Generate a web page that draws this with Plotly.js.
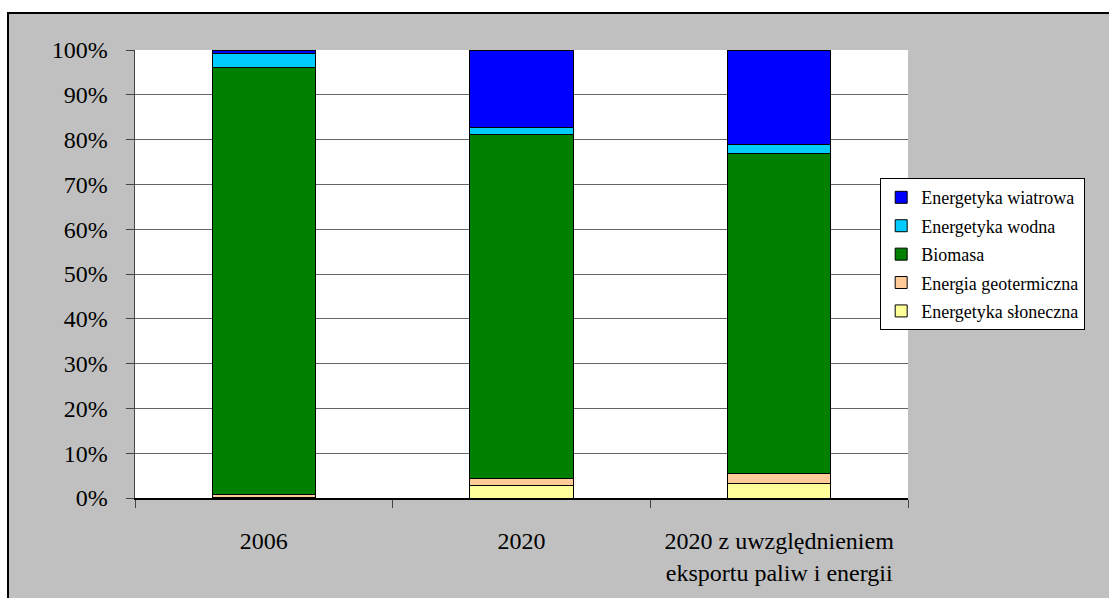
<!DOCTYPE html>
<html>
<head>
<meta charset="utf-8">
<script src="https://cdn.plot.ly/plotly-3.0.1.min.js"></script>
<style>
html,body{margin:0;padding:0;background:#ffffff;overflow:hidden;width:1109px;height:598px;}
#frame{position:absolute;left:7px;top:12px;width:1110px;height:600px;border-left:2px solid #000;border-top:2px solid #000;background:#c0c0c0;}
#chart{position:absolute;left:0;top:0;width:1100px;height:584px;}
</style>
</head>
<body>
<div id="frame"><div id="chart"></div></div>
<script>
var categories = ['2006', '2020', '2020 z uwzględnieniem<br>eksportu paliw i energii'];
var seriesNames = ['Energetyka słoneczna', 'Energia geotermiczna', 'Biomasa', 'Energetyka wodna', 'Energetyka wiatrowa'];
var solar = [0.1, 2.8, 3.3];
var geothermal = [0.6, 1.5, 2.1];
var biomass = [95.5, 76.9, 71.5];
var hydro = [3.0, 1.5, 2.1];
var wind = [0.8, 17.3, 21.0];
var yTicks = [0, 10, 20, 30, 40, 50, 60, 70, 80, 90, 100];
var yTickLabels = ['0%', '10%', '20%', '30%', '40%', '50%', '60%', '70%', '80%', '90%', '100%'];

var seriesValues = [solar, geothermal, biomass, hydro, wind];
var colors = ['#FFFF99', '#FFCC99', '#008000', '#00CCFF', '#0000FF'];

var traces = seriesNames.map(function(name, i){
  return {
    type: 'bar',
    name: name,
    x: categories,
    y: seriesValues[i],
    legendgroup: 'g' + i,
    legendrank: 100 - i,
    marker: {color: colors[i], line: {color: '#000000', width: 1}},
    hoverinfo: 'name+y'
  };
});

var serif = "'Liberation Serif', 'Times New Roman', serif";

var layout = {
  width: 1100,
  height: 584,
  barmode: 'stack',
  bargap: 0.6,
  paper_bgcolor: '#c0c0c0',
  plot_bgcolor: '#ffffff',
  margin: {l: 126, r: 201, t: 36, b: 100, pad: 0},
  font: {family: serif, color: '#000000'},
  xaxis: {
    type: 'category',
    tickson: 'boundaries',
    ticks: 'outside',
    ticklen: 8,
    tickcolor: '#444444',
    showline: true,
    linecolor: '#000000',
    linewidth: 1.5,
    showgrid: false,
    tickfont: {family: serif, size: 24, color: '#000000'},
    ticklabelstandoff: 21
  },
  yaxis: {
    range: [0, 100],
    tickmode: 'array',
    tickvals: yTicks,
    ticktext: yTickLabels,
    ticks: 'outside',
    ticklen: 8,
    tickcolor: '#444444',
    showline: true,
    linecolor: '#444444',
    linewidth: 1.5,
    showgrid: true,
    gridcolor: '#666666',
    gridwidth: 1,
    zeroline: false,
    tickfont: {family: serif, size: 24, color: '#000000'},
    ticklabelstandoff: 13
  },
  legend: {
    x: 0.964,
    y: 0.714,
    xanchor: 'left',
    yanchor: 'top',
    bgcolor: '#ffffff',
    bordercolor: '#000000',
    borderwidth: 1,
    traceorder: 'grouped',
    tracegroupgap: 2,
    font: {family: serif, size: 18, color: '#000000'}
  },
  showlegend: true
};

Plotly.newPlot('chart', traces, layout, {displayModeBar: false, staticPlot: true});
</script>
</body>
</html>
